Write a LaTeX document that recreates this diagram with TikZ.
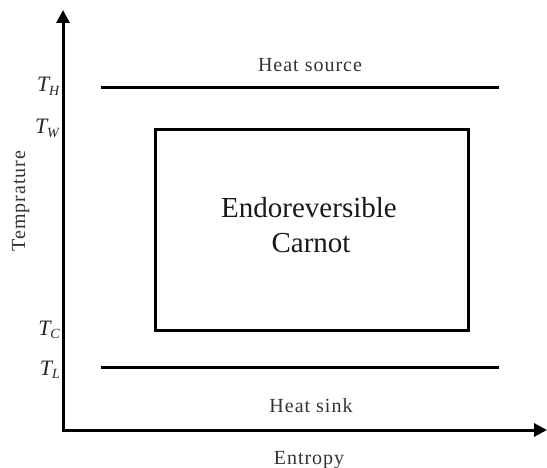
\documentclass[tikz,border=0pt]{standalone}
\usepackage{fontspec}
\setmainfont{Liberation Serif}
\newfontfamily\spaced[LetterSpace=5]{Liberation Serif}
\usetikzlibrary{arrows.meta}
\definecolor{labgray}{HTML}{333333}
\newcommand{\Tlab}[1]{\textit{T}\kern-1.5pt\raisebox{-0.3ex}{\fontsize{14}{14}\selectfont\textit{#1}}}
\tikzset{
  thick line/.style={line width=3pt, black},
  small label/.style={font=\fontsize{20}{22}\selectfont\spaced, text=labgray, inner sep=0pt, anchor=base},
  tlabel/.style={font=\fontsize{22}{24}\selectfont, text=black!85, inner sep=0pt, anchor=base east},
  big label/.style={font=\fontsize{29}{35}\selectfont, text=black!90, inner sep=0pt, anchor=base, align=center}
}
\begin{document}
\begin{tikzpicture}[x=1pt,y=-1pt]
\useasboundingbox (0,0) rectangle (547,468);
% axes
\coordinate (O) at (63,430);
\coordinate (Ytip) at (63,10);
\coordinate (Xtip) at (547,430);
\draw[thick line, line join=miter, {Triangle[length=13pt,width=13pt]}-{Triangle[length=13pt,width=13pt]}] (Ytip) |- (Xtip);
% reservoirs
\coordinate (HS1) at (101,88);
\coordinate (HS2) at (499,88);
\coordinate (LS1) at (101,367);
\coordinate (LS2) at (499,367);
\draw[thick line] (HS1) -- (HS2);
\draw[thick line] (LS1) -- (LS2);
% engine
\coordinate (R1) at (155,130);
\coordinate (R2) at (468,330);
\draw[thick line] (R1) rectangle (R2);
% labels
\node[small label] (src) at (310,72) {Heat source};
\node[small label] (snk) at (311,412) {Heat sink};
\node[small label] (ent) at (309,464) {Entropy};
\node[small label, rotate=90] (tmp) at (25,201) {Temprature};
\node[big label] (eng1) at (309,218) {Endoreversible};
\node[big label] (eng2) at (311,253) {Carnot};
\node[tlabel] (TH) at (60,92) {\Tlab{H}};
\node[tlabel] (TW) at (60,134) {\Tlab{W}};
\node[tlabel] (TC) at (60,335) {\Tlab{C}};
\node[tlabel] (TL) at (60,375) {\Tlab{L}};
\end{tikzpicture}
\end{document}
